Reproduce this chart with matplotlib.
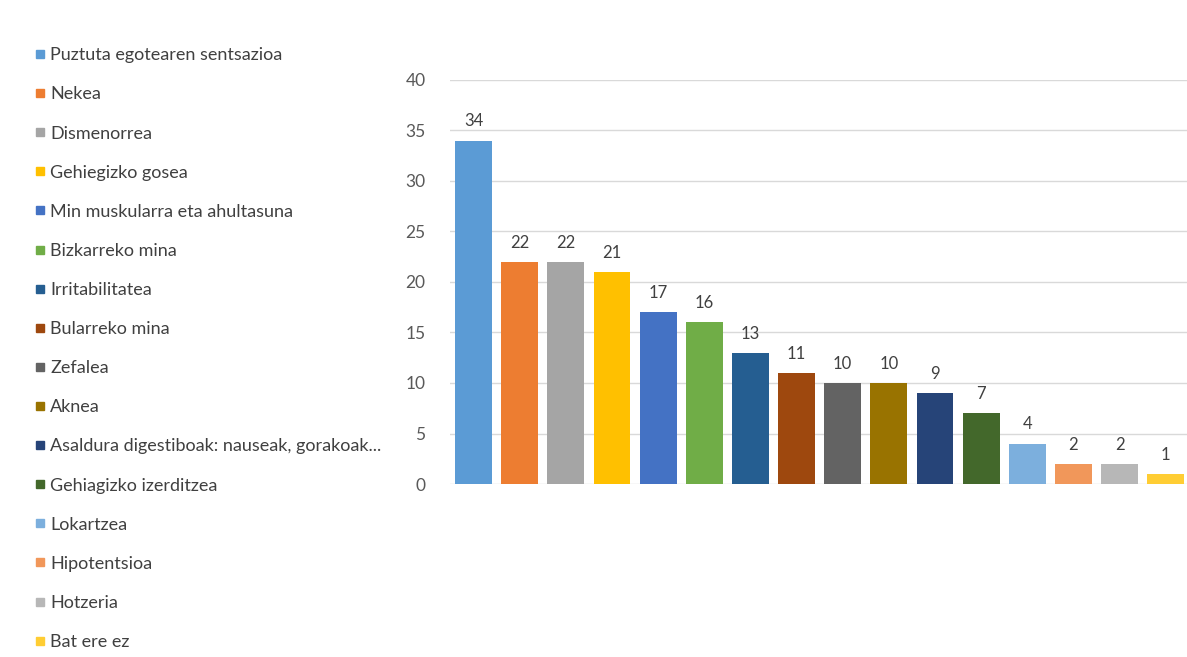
import matplotlib.pyplot as plt
from matplotlib.lines import Line2D

plt.rcParams['font.family'] = ['Lato', 'DejaVu Sans']

# Sintomak eta maiztasunak
sintomak = [
    "Puztuta egotearen sentsazioa", "Nekea", "Dismenorrea", "Gehiegizko gosea",
    "Min muskularra eta ahultasuna", "Bizkarreko mina", "Irritabilitatea",
    "Bularreko mina", "Zefalea", "Aknea",
    "Asaldura digestiboak: nauseak, gorakoak...", "Gehiagizko izerditzea",
    "Lokartzea", "Hipotentsioa", "Hotzeria", "Bat ere ez",
]
balioak = [34, 22, 22, 21, 17, 16, 13, 11, 10, 10, 9, 7, 4, 2, 2, 1]
koloreak = ["#5B9BD5", "#ED7D31", "#A5A5A5", "#FFC000", "#4472C4", "#70AD47",
            "#255E91", "#9E480E", "#636363", "#997300", "#264478", "#43682B",
            "#7CAFDD", "#F1975A", "#B7B7B7", "#FFCD33"]
y_ticks = [0, 5, 10, 15, 20, 25, 30, 35, 40]

fig = plt.figure(figsize=(11.87, 6.57), dpi=100)
ax = fig.add_axes([0.3795, 0.2633, 0.622, 0.615])

x = range(len(balioak))
ax.bar(x, balioak, width=0.8, color=koloreak, zorder=3)

for i, v in enumerate(balioak):
    ax.annotate(str(v), (i, v), xytext=(0, 8), textcoords='offset points',
                ha='center', va='bottom', fontsize=12, color='#404040')

ax.set_xlim(-0.5, len(balioak) - 0.5)
ax.set_ylim(0, 40)
ax.set_yticks(y_ticks)
ax.set_xticks([])
ax.tick_params(axis='y', length=0, pad=18, labelsize=12.5, labelcolor='#595959')
ax.grid(axis='y', color='#D9D9D9', linewidth=1, zorder=0)
for s in ax.spines.values():
    s.set_visible(False)

# Legenda
eskuak = [Line2D([], [], marker='s', linestyle='none', markersize=6,
                 markerfacecolor=c, markeredgecolor=c) for c in koloreak]
fig.legend(eskuak, sintomak, loc='upper left', bbox_to_anchor=(0.024, 0.939),
           frameon=False, fontsize=13, labelcolor='#404040',
           handlelength=0.5, handletextpad=0.3, labelspacing=1.28,
           borderaxespad=0)

fig.savefig('out.png', dpi=100)
